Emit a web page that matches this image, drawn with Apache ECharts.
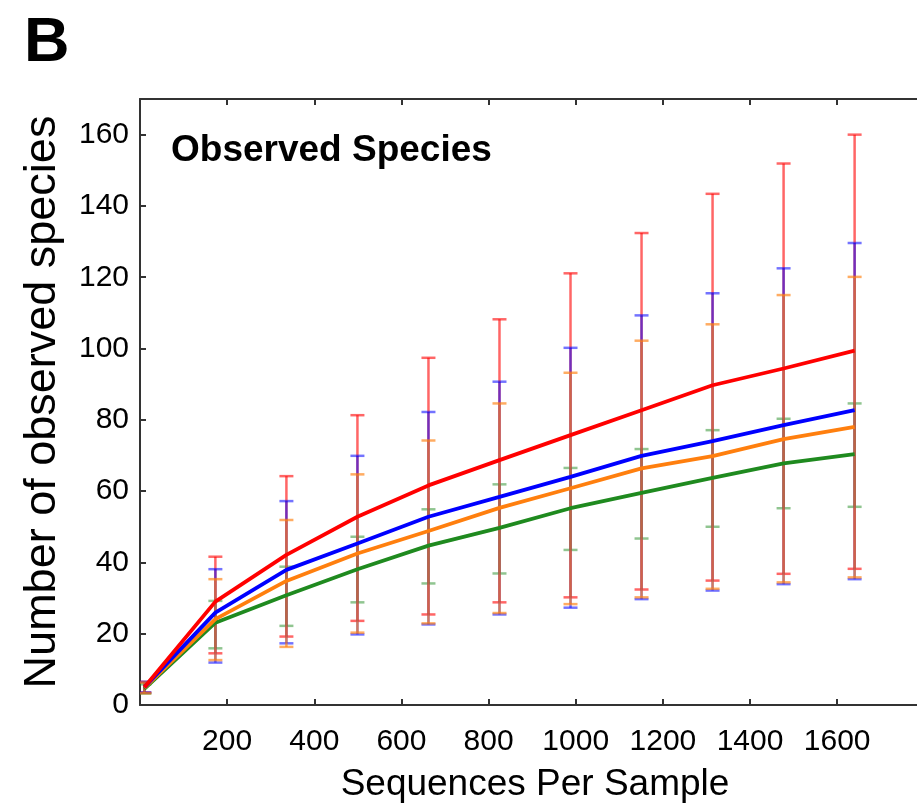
<!DOCTYPE html>
<html>
<head>
<meta charset="utf-8">
<title>Observed Species</title>
<script src="https://cdn.jsdelivr.net/npm/echarts@6/dist/echarts.min.js"></script>
<style>
  html, body { margin: 0; padding: 0; background: #fff; }
  #chart { width: 917px; height: 804px; }
</style>
</head>
<body>
<div id="chart"></div>
<script>
// sequences per sample (rarefaction depths)
var seqs = [10, 173, 336, 499, 662, 825, 988, 1151, 1314, 1477, 1640];

// mean observed species per group
var redMean = [5.0, 29.0, 42.1, 52.8, 61.6, 68.7, 75.7, 82.7, 89.7, 94.4, 99.4];
var blueMean = [5.0, 25.9, 37.9, 45.3, 52.8, 58.4, 64.0, 69.9, 74.0, 78.5, 82.7];
var orangeMean = [4.8, 24.1, 34.8, 42.5, 48.8, 55.3, 60.8, 66.4, 69.8, 74.6, 78.0];
var greenMean = [4.5, 23.1, 30.8, 38.1, 44.7, 49.7, 55.2, 59.5, 63.7, 67.8, 70.4];

// error bar ends (upper / lower)
var redHi = [6.5, 41.6, 64.2, 81.3, 97.4, 108.2, 121.1, 132.4, 143.4, 151.9, 160.0];
var redLo = [3.5, 14.5, 19.2, 23.6, 25.4, 28.8, 30.2, 32.4, 34.9, 36.8, 38.2];
var blueHi = [6.5, 38.1, 57.2, 69.9, 82.2, 90.7, 100.2, 109.3, 115.5, 122.5, 129.6];
var blueLo = [3.5, 11.9, 17.3, 19.8, 22.6, 25.4, 27.3, 29.7, 32.1, 33.9, 35.3];
var orangeHi = [6.3, 35.3, 51.9, 64.7, 74.2, 84.6, 93.2, 102.2, 106.8, 115.0, 120.1];
var orangeLo = [3.3, 12.6, 16.3, 20.3, 22.9, 25.8, 28.3, 30.2, 32.6, 34.4, 35.8];
var greenHi = [5.8, 29.2, 38.8, 47.2, 54.9, 61.9, 66.5, 71.8, 77.1, 80.3, 84.6];
var greenLo = [3.2, 15.9, 22.2, 28.8, 34.1, 36.9, 43.5, 46.7, 50.0, 55.2, 55.6];

var xTicks = [200, 400, 600, 800, 1000, 1200, 1400, 1600];
var yTicks = [0, 20, 40, 60, 80, 100, 120, 140, 160];

var font = '"Liberation Sans", Arial, sans-serif';
var axisColor = '#333';

function pairs(vals) {
  var out = [];
  for (var i = 0; i < seqs.length; i++) {
    out.push([seqs[i], vals[i]]);
  }
  return out;
}

// vertical bar + two caps, drawn half transparent like the original
function errSeries(name, color, lo, hi, alpha) {
  var data = [];
  for (var i = 0; i < seqs.length; i++) {
    data.push([seqs[i], lo[i], hi[i]]);
  }
  return {
    name: name,
    type: 'custom',
    data: data,
    clip: true,
    silent: true,
    encode: { x: 0, y: [1, 2] },
    renderItem: function (params, api) {
      var top = api.coord([api.value(0), api.value(2)]);
      var bot = api.coord([api.value(0), api.value(1)]);
      var hw = 7;
      var st = { stroke: color, lineWidth: 2.5, opacity: alpha };
      return {
        type: 'group',
        children: [
          { type: 'line', shape: { x1: top[0], y1: top[1], x2: bot[0], y2: bot[1] }, style: st },
          { type: 'line', shape: { x1: top[0] - hw, y1: top[1], x2: top[0] + hw, y2: top[1] }, style: st },
          { type: 'line', shape: { x1: bot[0] - hw, y1: bot[1], x2: bot[0] + hw, y2: bot[1] }, style: st }
        ]
      };
    }
  };
}

function lineSeries(name, color, vals) {
  return {
    name: name,
    type: 'line',
    data: pairs(vals),
    symbol: 'none',
    smooth: false,
    silent: true,
    lineStyle: { color: color, width: 3.8 },
    itemStyle: { color: color },
    z: 5
  };
}

var chart = echarts.init(document.getElementById('chart'), null, { renderer: 'canvas' });

// the frame runs past the right edge of the picture
var xMax = 1813;

var option = {
  backgroundColor: '#fff',
  animation: false,
  grid: { left: 140, top: 99, width: 790, height: 606, outerBoundsMode: 'none' },
  xAxis: [{
    type: 'value',
    min: 0,
    max: xMax,
    interval: 200,
    name: 'Sequences Per Sample',
    nameLocation: 'middle',
    nameGap: 61,
    nameTextStyle: { fontFamily: font, fontSize: 37, color: '#000' },
    axisLine: { show: true, onZero: false, lineStyle: { color: axisColor, width: 2 } },
    axisTick: { show: true, inside: true, length: 6, lineStyle: { color: axisColor, width: 2 } },
    axisLabel: {
      showMinLabel: false, showMaxLabel: false, margin: 22,
      fontFamily: font, fontSize: 30, color: '#000',
      formatter: function (v) { return xTicks.indexOf(v) >= 0 ? String(v) : ''; }
    },
    splitLine: { show: false }
  }, {
    type: 'value',
    position: 'top',
    min: 0,
    max: xMax,
    interval: 200,
    axisLine: { show: true, onZero: false, lineStyle: { color: axisColor, width: 2 } },
    axisTick: { show: true, inside: true, length: 6, lineStyle: { color: axisColor, width: 2 } },
    axisLabel: { show: false },
    splitLine: { show: false }
  }],
  yAxis: [{
    type: 'value',
    min: 0,
    max: 170,
    interval: 20,
    name: 'Number of observed species',
    nameLocation: 'middle',
    nameGap: 75,
    nameRotate: 90,
    nameTextStyle: { fontFamily: font, fontSize: 45, color: '#000' },
    axisLine: { show: true, onZero: false, lineStyle: { color: axisColor, width: 2 } },
    axisTick: { show: true, inside: true, length: 6, lineStyle: { color: axisColor, width: 2 } },
    axisLabel: {
      showMaxLabel: false, margin: 11,
      fontFamily: font, fontSize: 30, color: '#000',
      formatter: function (v) { return yTicks.indexOf(v) >= 0 ? String(v) : ''; }
    },
    splitLine: { show: false }
  }, {
    type: 'value',
    position: 'right',
    min: 0,
    max: 170,
    interval: 20,
    axisLine: { show: false, onZero: false },
    axisTick: { show: true, inside: true, length: 3, lineStyle: { color: '#c8c8c8', width: 2 } },
    axisLabel: { show: false },
    splitLine: { show: false }
  }],
  graphic: [{
    type: 'text',
    left: 24,
    top: 12,
    style: { text: 'B', font: 'bold 63px ' + font, fill: '#000' }
  }, {
    type: 'text',
    left: 171,
    top: 132,
    style: { text: 'Observed Species', font: 'bold 37px ' + font, fill: '#000' }
  }],
  series: [
    errSeries('red err', '#ff0000', redLo, redHi, 0.6),
    errSeries('green err', '#228b22', greenLo, greenHi, 0.5),
    errSeries('blue err', '#0000ff', blueLo, blueHi, 0.55),
    errSeries('orange err', '#ff7f0e', orangeLo, orangeHi, 0.65),
    lineSeries('green', '#1f8a1f', greenMean),
    lineSeries('orange', '#ff7f0e', orangeMean),
    lineSeries('blue', '#0000ff', blueMean),
    lineSeries('red', '#ff0000', redMean)
  ]
};

chart.setOption(option);
</script>
</body>
</html>
